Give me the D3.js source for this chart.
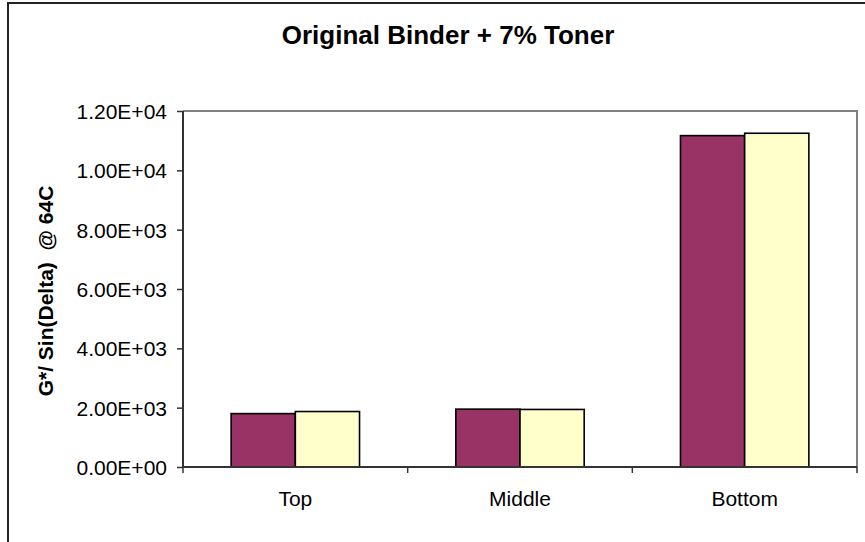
<!DOCTYPE html>
<html>
<head>
<meta charset="utf-8">
<script src="https://cdn.jsdelivr.net/npm/d3@7"></script>
<style>
  html, body { margin: 0; padding: 0; background: #fff; }
  svg { display: block; font-family: "Liberation Sans", Arial, sans-serif; }
</style>
</head>
<body>
<svg id="chart" width="865" height="542"></svg>
<script>
// ---- data ----
const categories = ["Top", "Middle", "Bottom"];
const seriesNames = ["Series1", "Series2"];
const series1Values = [1800, 1950, 11170];
const series2Values = [1870, 1940, 11250];
const yTickValues = [0, 2000, 4000, 6000, 8000, 10000, 12000];
const yTickLabels = ["0.00E+00", "2.00E+03", "4.00E+03", "6.00E+03", "8.00E+03", "1.00E+04", "1.20E+04"];
const chartTitle = "Original Binder + 7% Toner";
const yAxisTitle = "G*/ Sin(Delta)  @ 64C";

const seriesColors = ["#993366", "#FFFFCC"];
const allSeries = [series1Values, series2Values];

// ---- layout ----
const svg = d3.select("#chart");
const plot = { left: 183, right: 857, top: 111, bottom: 467 };

svg.append("rect").attr("x", 0).attr("y", 0).attr("width", 865).attr("height", 542).attr("fill", "#fff");

// outer chart border (right/bottom fall outside the picture)
svg.append("rect")
  .attr("x", 8).attr("y", 3).attr("width", 900).attr("height", 600)
  .attr("fill", "none").attr("stroke", "#222").attr("stroke-width", 2);

const x0 = d3.scaleBand().domain(categories).range([plot.left, plot.right]).padding(0);
const x1 = d3.scaleBand().domain(seriesNames).range([0, x0.bandwidth()]).paddingInner(0).paddingOuter(0.75);
const y = d3.scaleLinear().domain([0, 12000]).range([plot.bottom, plot.top]);

// plot area border (top/right gray)
svg.append("path")
  .attr("d", `M${plot.left},${plot.top}H${plot.right}V${plot.bottom}`)
  .attr("fill", "none").attr("stroke", "#808080").attr("stroke-width", 2);

// bars
const groups = svg.append("g").selectAll("g")
  .data(categories)
  .join("g")
  .attr("transform", d => `translate(${x0(d)},0)`);

groups.selectAll("rect")
  .data((c, i) => seriesNames.map((s, j) => ({ s, v: allSeries[j][i], j })))
  .join("rect")
  .attr("x", d => x1(d.s))
  .attr("width", x1.bandwidth())
  .attr("y", d => y(d.v))
  .attr("height", d => y(0) - y(d.v))
  .attr("fill", d => seriesColors[d.j])
  .attr("stroke", "#000")
  .attr("stroke-width", 1.6);

// y axis
const yAxis = d3.axisLeft(y)
  .tickValues(yTickValues)
  .tickFormat((d, i) => yTickLabels[i])
  .tickSize(6)
  .tickPadding(10);
const yg = svg.append("g").attr("transform", `translate(${plot.left},0)`).call(yAxis);
yg.select(".domain").attr("stroke", "#333").attr("stroke-width", 2).attr("d", `M0,${plot.top}V${plot.bottom}`);
yg.selectAll(".tick line").attr("stroke", "#333").attr("stroke-width", 1.5);
yg.selectAll(".tick text").attr("font-size", 21).attr("fill", "#000")
  .attr("font-family", "'Liberation Sans', Arial, sans-serif").attr("dy", "0.36em");

// x axis
const xAxis = d3.axisBottom(x0).tickSize(0).tickPadding(24);
const xg = svg.append("g").attr("transform", `translate(0,${plot.bottom})`).call(xAxis);
xg.select(".domain").attr("stroke", "#333").attr("stroke-width", 2).attr("d", `M${plot.left},0H${plot.right}`);
xg.selectAll(".tick text").attr("font-size", 21).attr("fill", "#000")
  .attr("font-family", "'Liberation Sans', Arial, sans-serif").attr("dy", "0.71em");
// category boundary ticks
const boundaries = categories.map(c => x0(c)).concat([plot.right]);
xg.selectAll("line.bound").data(boundaries).join("line")
  .attr("class", "bound")
  .attr("x1", d => d).attr("x2", d => d)
  .attr("y1", 0).attr("y2", 6)
  .attr("stroke", "#333").attr("stroke-width", 1.5);

// title
svg.append("text")
  .attr("x", 448).attr("y", 44)
  .attr("text-anchor", "middle")
  .attr("font-size", 26).attr("font-weight", "bold")
  .text(chartTitle);

// y axis title
svg.append("text")
  .attr("transform", "translate(53,291) rotate(-90)")
  .attr("text-anchor", "middle")
  .attr("font-size", 21).attr("font-weight", "bold")
  .attr("xml:space", "preserve")
  .style("white-space", "pre")
  .text(yAxisTitle);
</script>
</body>
</html>
